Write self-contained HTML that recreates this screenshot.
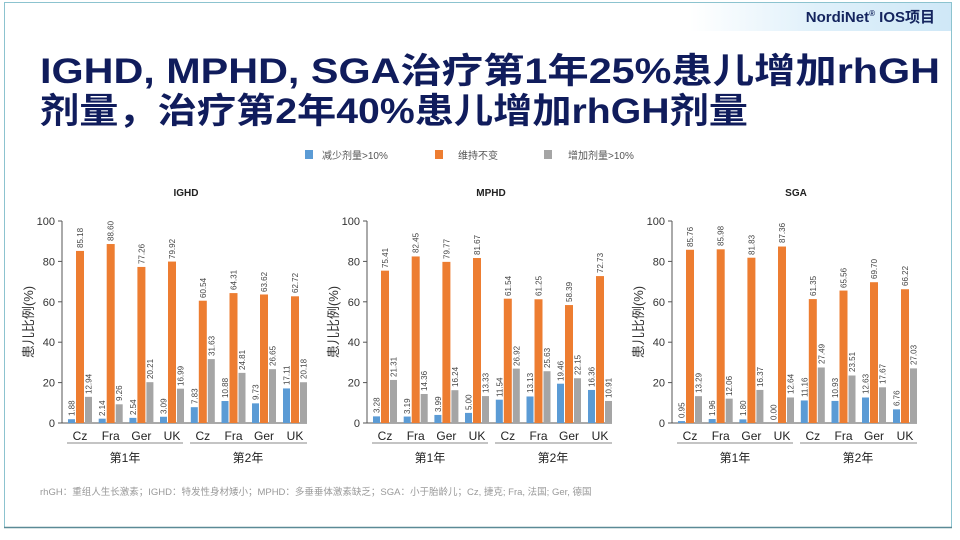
<!DOCTYPE html>
<html><head><meta charset="utf-8"><style>
html,body{margin:0;padding:0;background:#fff;}
svg{display:block;font-family:"Liberation Sans","Noto Sans CJK SC",sans-serif;}
.b{fill:#5b9bd5}.o{fill:#ed7d31}.g{fill:#a5a5a5}
.v{font-size:8px;fill:#444;}
.t{font-size:11px;fill:#333;}
.c{font-size:12px;fill:#222;text-anchor:middle;}
</style></head><body>
<svg width="960" height="540" viewBox="0 0 960 540" xmlns="http://www.w3.org/2000/svg">
<defs><linearGradient id="hg" x1="0" x2="1"><stop offset="0" stop-color="#fff"/><stop offset="0.5" stop-color="#dff0fa"/><stop offset="1" stop-color="#cfe8f7"/></linearGradient>
<g id="axis">
<line x1="0" y1="221" x2="0" y2="423" stroke="#555"/>
<line x1="0" y1="423" x2="245" y2="423" stroke="#555"/>
<g stroke="#555"><line x1="-4" y1="423" x2="0" y2="423"/><line x1="-4" y1="382.6" x2="0" y2="382.6"/><line x1="-4" y1="342.2" x2="0" y2="342.2"/><line x1="-4" y1="301.8" x2="0" y2="301.8"/><line x1="-4" y1="261.4" x2="0" y2="261.4"/><line x1="-4" y1="221" x2="0" y2="221"/></g>
<g class="t" text-anchor="end"><text x="-7" y="427">0</text><text x="-7" y="386.6">20</text><text x="-7" y="346.2">40</text><text x="-7" y="305.8">60</text><text x="-7" y="265.4">80</text><text x="-7" y="225">100</text></g>
<text transform="translate(-29,322) rotate(-90)" text-anchor="middle" style="font-size:13px;fill:#333">患儿比例(%)</text>
<g class="c"><text x="18" y="440">Cz</text><text x="48.7" y="440">Fra</text><text x="79.4" y="440">Ger</text><text x="110" y="440">UK</text><text x="140.8" y="440">Cz</text><text x="171.5" y="440">Fra</text><text x="202" y="440">Ger</text><text x="233" y="440">UK</text>
<text x="63" y="462">第1年</text><text x="186" y="462">第2年</text></g>
<line x1="5" y1="443" x2="121" y2="443" stroke="#888"/><line x1="128" y1="443" x2="245" y2="443" stroke="#888"/>
</g>
</defs>
<rect x="0" y="0" width="960" height="540" fill="#fff"/>
<rect x="4.5" y="2.5" width="947" height="525" fill="none" stroke="#8cc3cf"/>
<line x1="4" y1="527.5" x2="952" y2="527.5" stroke="#5a8a96" stroke-width="1.5"/>
<rect x="690" y="3" width="261" height="28" fill="url(#hg)"/>
<text x="935" y="22" text-anchor="end" style="font-size:15px;font-weight:bold;fill:#14245e">NordiNet<tspan style="font-size:8px" dy="-6">®</tspan><tspan dy="6"> IOS项目</tspan></text>
<text x="40" y="83" textLength="900" lengthAdjust="spacingAndGlyphs" style="font-size:35px;font-weight:bold;fill:#101c5c">IGHD, MPHD, SGA治疗第1年25%患儿增加rhGH</text>
<text x="40" y="123" textLength="708" lengthAdjust="spacingAndGlyphs" style="font-size:35px;font-weight:bold;fill:#101c5c">剂量，治疗第2年40%患儿增加rhGH剂量</text>
<g style="font-size:10px;fill:#555">
<rect x="305" y="150" width="8" height="9" class="b"/><text x="322" y="159">减少剂量&gt;10%</text>
<rect x="435" y="150" width="8" height="9" class="o"/><text x="458" y="159">维持不变</text>
<rect x="544" y="150" width="8" height="9" class="g"/><text x="568" y="159">增加剂量&gt;10%</text>
</g>
<text x="40" y="495" style="font-size:9.5px;fill:#999">rhGH：重组人生长激素；IGHD：特发性身材矮小；MPHD：多垂垂体激素缺乏；SGA：小于胎龄儿；Cz, 捷克; Fra, 法国; Ger, 德国</text>

<!-- IGHD -->
<g transform="translate(62,0)">
<use href="#axis"/>
<text x="124" y="196" text-anchor="middle" style="font-size:10px;font-weight:bold;fill:#222">IGHD</text>
<g transform="translate(18,423)"><g transform="scale(1,-2.02)"><rect class="b" x="-12" width="7" height="1.88"/><rect class="o" x="-4" width="8" height="85.18"/><rect class="g" x="5" width="7" height="12.94"/></g><g class="v"><text transform="translate(-8.5,-7) rotate(-90)" dy="3">1.88</text><text transform="translate(0,-175) rotate(-90)" dy="3">85.18</text><text transform="translate(8.5,-29) rotate(-90)" dy="3">12.94</text></g></g>
<g transform="translate(48.7,423)"><g transform="scale(1,-2.02)"><rect class="b" x="-12" width="7" height="2.14"/><rect class="o" x="-4" width="8" height="88.60"/><rect class="g" x="5" width="7" height="9.26"/></g><g class="v"><text transform="translate(-8.5,-7) rotate(-90)" dy="3">2.14</text><text transform="translate(0,-182) rotate(-90)" dy="3">88.60</text><text transform="translate(8.5,-22) rotate(-90)" dy="3">9.26</text></g></g>
<g transform="translate(79.4,423)"><g transform="scale(1,-2.02)"><rect class="b" x="-12" width="7" height="2.54"/><rect class="o" x="-4" width="8" height="77.26"/><rect class="g" x="5" width="7" height="20.21"/></g><g class="v"><text transform="translate(-8.5,-8) rotate(-90)" dy="3">2.54</text><text transform="translate(0,-159) rotate(-90)" dy="3">77.26</text><text transform="translate(8.5,-44) rotate(-90)" dy="3">20.21</text></g></g>
<g transform="translate(110,423)"><g transform="scale(1,-2.02)"><rect class="b" x="-12" width="7" height="3.09"/><rect class="o" x="-4" width="8" height="79.92"/><rect class="g" x="5" width="7" height="16.99"/></g><g class="v"><text transform="translate(-8.5,-9) rotate(-90)" dy="3">3.09</text><text transform="translate(0,-164) rotate(-90)" dy="3">79.92</text><text transform="translate(8.5,-37) rotate(-90)" dy="3">16.99</text></g></g>
<g transform="translate(140.8,423)"><g transform="scale(1,-2.02)"><rect class="b" x="-12" width="7" height="7.83"/><rect class="o" x="-4" width="8" height="60.54"/><rect class="g" x="5" width="7" height="31.63"/></g><g class="v"><text transform="translate(-8.5,-19) rotate(-90)" dy="3">7.83</text><text transform="translate(0,-125) rotate(-90)" dy="3">60.54</text><text transform="translate(8.5,-67) rotate(-90)" dy="3">31.63</text></g></g>
<g transform="translate(171.5,423)"><g transform="scale(1,-2.02)"><rect class="b" x="-12" width="7" height="10.88"/><rect class="o" x="-4" width="8" height="64.31"/><rect class="g" x="5" width="7" height="24.81"/></g><g class="v"><text transform="translate(-8.5,-25) rotate(-90)" dy="3">10.88</text><text transform="translate(0,-133) rotate(-90)" dy="3">64.31</text><text transform="translate(8.5,-53) rotate(-90)" dy="3">24.81</text></g></g>
<g transform="translate(202,423)"><g transform="scale(1,-2.02)"><rect class="b" x="-12" width="7" height="9.73"/><rect class="o" x="-4" width="8" height="63.62"/><rect class="g" x="5" width="7" height="26.65"/></g><g class="v"><text transform="translate(-8.5,-23) rotate(-90)" dy="3">9.73</text><text transform="translate(0,-131) rotate(-90)" dy="3">63.62</text><text transform="translate(8.5,-57) rotate(-90)" dy="3">26.65</text></g></g>
<g transform="translate(233,423)"><g transform="scale(1,-2.02)"><rect class="b" x="-12" width="7" height="17.11"/><rect class="o" x="-4" width="8" height="62.72"/><rect class="g" x="5" width="7" height="20.18"/></g><g class="v"><text transform="translate(-8.5,-38) rotate(-90)" dy="3">17.11</text><text transform="translate(0,-130) rotate(-90)" dy="3">62.72</text><text transform="translate(8.5,-44) rotate(-90)" dy="3">20.18</text></g></g>
</g>

<!-- MPHD -->
<g transform="translate(367,0)">
<use href="#axis"/>
<text x="124" y="196" text-anchor="middle" style="font-size:10px;font-weight:bold;fill:#222">MPHD</text>
<g transform="translate(18,423)"><g transform="scale(1,-2.02)"><rect class="b" x="-12" width="7" height="3.28"/><rect class="o" x="-4" width="8" height="75.41"/><rect class="g" x="5" width="7" height="21.31"/></g><g class="v"><text transform="translate(-8.5,-10) rotate(-90)" dy="3">3.28</text><text transform="translate(0,-155) rotate(-90)" dy="3">75.41</text><text transform="translate(8.5,-46) rotate(-90)" dy="3">21.31</text></g></g>
<g transform="translate(48.7,423)"><g transform="scale(1,-2.02)"><rect class="b" x="-12" width="7" height="3.19"/><rect class="o" x="-4" width="8" height="82.45"/><rect class="g" x="5" width="7" height="14.36"/></g><g class="v"><text transform="translate(-8.5,-9) rotate(-90)" dy="3">3.19</text><text transform="translate(0,-170) rotate(-90)" dy="3">82.45</text><text transform="translate(8.5,-32) rotate(-90)" dy="3">14.36</text></g></g>
<g transform="translate(79.4,423)"><g transform="scale(1,-2.02)"><rect class="b" x="-12" width="7" height="3.99"/><rect class="o" x="-4" width="8" height="79.77"/><rect class="g" x="5" width="7" height="16.24"/></g><g class="v"><text transform="translate(-8.5,-11) rotate(-90)" dy="3">3.99</text><text transform="translate(0,-164) rotate(-90)" dy="3">79.77</text><text transform="translate(8.5,-36) rotate(-90)" dy="3">16.24</text></g></g>
<g transform="translate(110,423)"><g transform="scale(1,-2.02)"><rect class="b" x="-12" width="7" height="5.00"/><rect class="o" x="-4" width="8" height="81.67"/><rect class="g" x="5" width="7" height="13.33"/></g><g class="v"><text transform="translate(-8.5,-13) rotate(-90)" dy="3">5.00</text><text transform="translate(0,-168) rotate(-90)" dy="3">81.67</text><text transform="translate(8.5,-30) rotate(-90)" dy="3">13.33</text></g></g>
<g transform="translate(140.8,423)"><g transform="scale(1,-2.02)"><rect class="b" x="-12" width="7" height="11.54"/><rect class="o" x="-4" width="8" height="61.54"/><rect class="g" x="5" width="7" height="26.92"/></g><g class="v"><text transform="translate(-8.5,-26) rotate(-90)" dy="3">11.54</text><text transform="translate(0,-127) rotate(-90)" dy="3">61.54</text><text transform="translate(8.5,-57) rotate(-90)" dy="3">26.92</text></g></g>
<g transform="translate(171.5,423)"><g transform="scale(1,-2.02)"><rect class="b" x="-12" width="7" height="13.13"/><rect class="o" x="-4" width="8" height="61.25"/><rect class="g" x="5" width="7" height="25.63"/></g><g class="v"><text transform="translate(-8.5,-30) rotate(-90)" dy="3">13.13</text><text transform="translate(0,-127) rotate(-90)" dy="3">61.25</text><text transform="translate(8.5,-55) rotate(-90)" dy="3">25.63</text></g></g>
<g transform="translate(202,423)"><g transform="scale(1,-2.02)"><rect class="b" x="-12" width="7" height="19.46"/><rect class="o" x="-4" width="8" height="58.39"/><rect class="g" x="5" width="7" height="22.15"/></g><g class="v"><text transform="translate(-8.5,-42) rotate(-90)" dy="3">19.46</text><text transform="translate(0,-121) rotate(-90)" dy="3">58.39</text><text transform="translate(8.5,-48) rotate(-90)" dy="3">22.15</text></g></g>
<g transform="translate(233,423)"><g transform="scale(1,-2.02)"><rect class="b" x="-12" width="7" height="16.36"/><rect class="o" x="-4" width="8" height="72.73"/><rect class="g" x="5" width="7" height="10.91"/></g><g class="v"><text transform="translate(-8.5,-36) rotate(-90)" dy="3">16.36</text><text transform="translate(0,-150) rotate(-90)" dy="3">72.73</text><text transform="translate(8.5,-25) rotate(-90)" dy="3">10.91</text></g></g>
</g>

<!-- SGA -->
<g transform="translate(672,0)">
<use href="#axis"/>
<text x="124" y="196" text-anchor="middle" style="font-size:10px;font-weight:bold;fill:#222">SGA</text>
<g transform="translate(18,423)"><g transform="scale(1,-2.02)"><rect class="b" x="-12" width="7" height="0.95"/><rect class="o" x="-4" width="8" height="85.76"/><rect class="g" x="5" width="7" height="13.29"/></g><g class="v"><text transform="translate(-8.5,-5) rotate(-90)" dy="3">0.95</text><text transform="translate(0,-176) rotate(-90)" dy="3">85.76</text><text transform="translate(8.5,-30) rotate(-90)" dy="3">13.29</text></g></g>
<g transform="translate(48.7,423)"><g transform="scale(1,-2.02)"><rect class="b" x="-12" width="7" height="1.96"/><rect class="o" x="-4" width="8" height="85.98"/><rect class="g" x="5" width="7" height="12.06"/></g><g class="v"><text transform="translate(-8.5,-7) rotate(-90)" dy="3">1.96</text><text transform="translate(0,-177) rotate(-90)" dy="3">85.98</text><text transform="translate(8.5,-27) rotate(-90)" dy="3">12.06</text></g></g>
<g transform="translate(79.4,423)"><g transform="scale(1,-2.02)"><rect class="b" x="-12" width="7" height="1.80"/><rect class="o" x="-4" width="8" height="81.83"/><rect class="g" x="5" width="7" height="16.37"/></g><g class="v"><text transform="translate(-8.5,-7) rotate(-90)" dy="3">1.80</text><text transform="translate(0,-168) rotate(-90)" dy="3">81.83</text><text transform="translate(8.5,-36) rotate(-90)" dy="3">16.37</text></g></g>
<g transform="translate(110,423)"><g transform="scale(1,-2.02)"><rect class="o" x="-4" width="8" height="87.36"/><rect class="g" x="5" width="7" height="12.64"/></g><g class="v"><text transform="translate(-8.5,-3) rotate(-90)" dy="3">0.00</text><text transform="translate(0,-180) rotate(-90)" dy="3">87.36</text><text transform="translate(8.5,-29) rotate(-90)" dy="3">12.64</text></g></g>
<g transform="translate(140.8,423)"><g transform="scale(1,-2.02)"><rect class="b" x="-12" width="7" height="11.16"/><rect class="o" x="-4" width="8" height="61.35"/><rect class="g" x="5" width="7" height="27.49"/></g><g class="v"><text transform="translate(-8.5,-26) rotate(-90)" dy="3">11.16</text><text transform="translate(0,-127) rotate(-90)" dy="3">61.35</text><text transform="translate(8.5,-59) rotate(-90)" dy="3">27.49</text></g></g>
<g transform="translate(171.5,423)"><g transform="scale(1,-2.02)"><rect class="b" x="-12" width="7" height="10.93"/><rect class="o" x="-4" width="8" height="65.56"/><rect class="g" x="5" width="7" height="23.51"/></g><g class="v"><text transform="translate(-8.5,-25) rotate(-90)" dy="3">10.93</text><text transform="translate(0,-135) rotate(-90)" dy="3">65.56</text><text transform="translate(8.5,-51) rotate(-90)" dy="3">23.51</text></g></g>
<g transform="translate(202,423)"><g transform="scale(1,-2.02)"><rect class="b" x="-12" width="7" height="12.63"/><rect class="o" x="-4" width="8" height="69.70"/><rect class="g" x="5" width="7" height="17.67"/></g><g class="v"><text transform="translate(-8.5,-29) rotate(-90)" dy="3">12.63</text><text transform="translate(0,-144) rotate(-90)" dy="3">69.70</text><text transform="translate(8.5,-39) rotate(-90)" dy="3">17.67</text></g></g>
<g transform="translate(233,423)"><g transform="scale(1,-2.02)"><rect class="b" x="-12" width="7" height="6.76"/><rect class="o" x="-4" width="8" height="66.22"/><rect class="g" x="5" width="7" height="27.03"/></g><g class="v"><text transform="translate(-8.5,-17) rotate(-90)" dy="3">6.76</text><text transform="translate(0,-137) rotate(-90)" dy="3">66.22</text><text transform="translate(8.5,-58) rotate(-90)" dy="3">27.03</text></g></g>
</g>
</svg>
</body></html>
